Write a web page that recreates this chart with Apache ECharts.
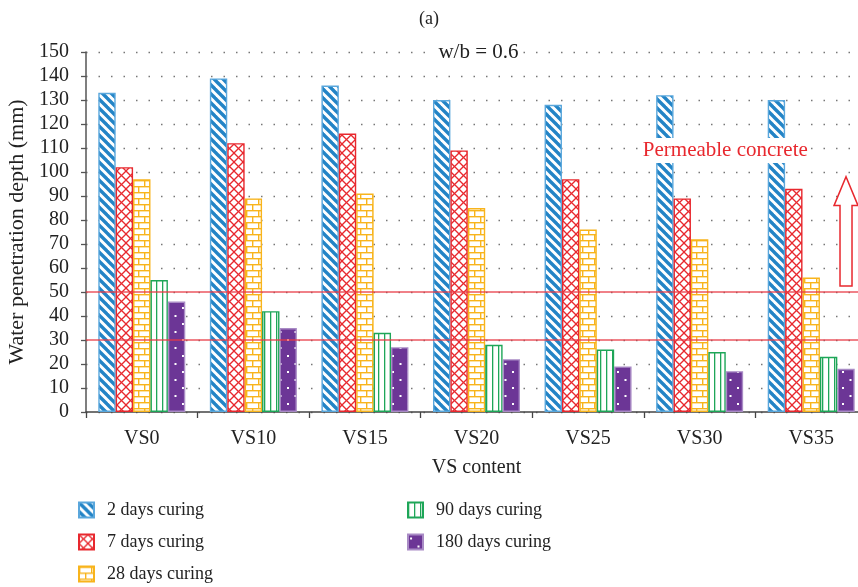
<!DOCTYPE html>
<html>
<head>
<meta charset="utf-8">
<script src="https://cdn.jsdelivr.net/npm/echarts@6/dist/echarts.min.js"></script>
<style>
  html, body { margin: 0; padding: 0; background: #fff; }
  #chart { width: 858px; height: 587px; }
</style>
</head>
<body>
<div id="chart"></div>
<script>
// Water penetration depth (mm) by VS content and curing age
const categories = ['VS0', 'VS10', 'VS15', 'VS20', 'VS25', 'VS30', 'VS35'];
const seriesNames = ['2 days curing', '7 days curing', '28 days curing', '90 days curing', '180 days curing'];
const days2 = [133, 139, 136, 130, 128, 132, 130];
const days7 = [102, 112, 116, 109, 97, 89, 93];
const days28 = [97, 89, 91, 85, 76, 72, 56];
const days90 = [55, 42, 33, 28, 26, 25, 23];
const days180 = [46, 35, 27, 22, 19, 17, 18];
const yMin = 0, yMax = 150, yStep = 10;
const limitLines = [30, 50];
// annotation arrow: bottom, head base and tip, in mm
const arrowValues = [52.5, 86, 98];

const FONT = 'Liberation Serif';
const BAR_W = 17.4;

function tile(w, h, draw) {
  const c = document.createElement('canvas');
  c.width = w; c.height = h;
  const ctx = c.getContext('2d');
  draw(ctx, w, h);
  return { image: c, repeat: 'repeat' };
}

// diagonal stripes
const stripeFill = tile(9, 9, (ctx, w, h) => {
  ctx.fillStyle = '#fff'; ctx.fillRect(0, 0, w, h);
  ctx.strokeStyle = '#2384c6'; ctx.lineWidth = 3.4;
  for (let k = -1; k <= 1; k++) {
    ctx.beginPath(); ctx.moveTo(k * w - 2, -2); ctx.lineTo(k * w + w + 2, h + 2); ctx.stroke();
  }
});
// cross hatch
const hatchFill = tile(9, 9, (ctx, w, h) => {
  ctx.fillStyle = '#fff'; ctx.fillRect(0, 0, w, h);
  ctx.strokeStyle = '#e8282e'; ctx.lineWidth = 1.3;
  for (let k = -1; k <= 1; k++) {
    ctx.beginPath(); ctx.moveTo(k * w - 1, -1); ctx.lineTo(k * w + w + 1, h + 1); ctx.stroke();
    ctx.beginPath(); ctx.moveTo(k * w + w + 1, -1); ctx.lineTo(k * w - 1, h + 1); ctx.stroke();
  }
});
// brick
const brickFill = tile(12, 12, (ctx, w, h) => {
  ctx.fillStyle = '#fff'; ctx.fillRect(0, 0, w, h);
  ctx.fillStyle = '#f8b41c';
  ctx.fillRect(0, 0, w, 1.4);
  ctx.fillRect(0, 6, w, 1.4);
  ctx.fillRect(0, 0, 1.4, 6);
  ctx.fillRect(6, 6, 1.4, 6);
});
// vertical lines
const vlineFill = tile(6, 6, (ctx, w, h) => {
  ctx.fillStyle = '#fff'; ctx.fillRect(0, 0, w, h);
  ctx.fillStyle = '#1ea658';
  ctx.fillRect(0, 0, 1.3, h);
});
// dots on purple
const dotFill = tile(15, 16, (ctx, w, h) => {
  ctx.fillStyle = '#6c3696'; ctx.fillRect(0, 0, w, h);
  ctx.fillStyle = '#fff';
  ctx.fillRect(2, 3, 2, 2);
  ctx.fillRect(9.5, 11, 2, 2);
});

const fills = [stripeFill, hatchFill, brickFill, vlineFill, dotFill];
const borders = ['#5aa7dc', '#e8282e', '#f8b41c', '#1ea658', '#a98bc5'];
const values = [days2, days7, days28, days90, days180];

const chart = echarts.init(document.getElementById('chart'), null, { renderer: 'canvas' });

const series = seriesNames.map((name, i) => ({
  name: name,
  type: 'bar',
  data: values[i],
  barWidth: BAR_W,
  barGap: '0%',
  itemStyle: { color: fills[i], borderColor: borders[i], borderWidth: 1.4 },
  emphasis: { disabled: true },
  markLine: i === 0 ? {
    silent: true,
    symbol: 'none',
    label: { show: false },
    lineStyle: { color: '#e83a44', width: 1.6, type: 'solid', opacity: 0.85 },
    data: limitLines.map(v => ({ yAxis: v }))
  } : undefined
}));

const legendText = { fontFamily: FONT, fontSize: 18, color: '#222', padding: [0, 0, 0, 8] };
const legendBase = {
  orient: 'vertical',
  top: 501, height: 86,
  padding: 0,
  itemWidth: 15, itemHeight: 15, itemGap: 14,
  icon: 'rect',
  textStyle: legendText
};

chart.setOption({
  animation: false,
  backgroundColor: '#fff',
  title: {
    text: '(a)',
    left: 'center',
    top: 5,
    textStyle: { fontFamily: FONT, fontSize: 18, fontWeight: 'normal', color: '#222' }
  },
  grid: { left: 86, width: 781, top: 52, bottom: 175, containLabel: false, outerBoundsMode: 'none' },
  legend: [
    Object.assign({ data: seriesNames.slice(0, 3), left: 78 }, legendBase),
    Object.assign({ data: seriesNames.slice(3), left: 407 }, legendBase)
  ],
  xAxis: {
    type: 'category',
    data: categories,
    name: 'VS content',
    nameLocation: 'middle',
    nameGap: 46,
    nameTextStyle: { fontFamily: FONT, fontSize: 20, color: '#222' },
    axisLine: { lineStyle: { color: '#444', width: 1.5 } },
    axisTick: { show: true, length: 6, lineStyle: { color: '#444', width: 1.3 } },
    axisLabel: { fontFamily: FONT, fontSize: 20, color: '#222', margin: 17 },
    splitLine: { show: false }
  },
  yAxis: {
    type: 'value',
    min: yMin, max: yMax, interval: yStep,
    name: 'Water penetration depth (mm)',
    nameLocation: 'middle',
    nameGap: 58,
    nameRotate: 90,
    nameTextStyle: { fontFamily: FONT, fontSize: 22, color: '#222' },
    axisLine: { show: true, lineStyle: { color: '#555', width: 1.5 } },
    axisTick: { show: true, length: 5, lineStyle: { color: '#555', width: 1.3 } },
    axisLabel: { fontFamily: FONT, fontSize: 20, color: '#222', margin: 17 },
    splitLine: { show: true, lineStyle: { color: '#777', width: 1.3, type: [1.5, 11] } }
  },
  series: series
});

// annotations placed through the axes
const xPix = c => chart.convertToPixel({ xAxisIndex: 0 }, c);
const yPix = v => chart.convertToPixel({ yAxisIndex: 0 }, v);
const catW = xPix(categories[1]) - xPix(categories[0]);
const xLast = xPix(categories[6]);
const x30 = xPix(categories[5]);
const arrowX = xLast + 2 * BAR_W;
const yBottom = yPix(arrowValues[0]), yHead = yPix(arrowValues[1]), yTip = yPix(arrowValues[2]);
const headHalf = 12, shaftHalf = 6;

chart.setOption({
  graphic: [
    {
      type: 'text',
      x: (xPix(categories[0]) + xLast) / 2 + 2,
      y: yPix(150),
      style: {
        text: 'w/b = 0.6',
        fontFamily: FONT, fontSize: 21, fill: '#222',
        align: 'center', verticalAlign: 'middle',
        backgroundColor: '#fff', padding: [2, 4]
      },
      z: 100
    },
    {
      type: 'text',
      x: x30 + catW * 0.23,
      y: yPix(109),
      style: {
        text: 'Permeable concrete',
        fontFamily: FONT, fontSize: 21, fill: '#e8282e',
        align: 'center', verticalAlign: 'middle',
        backgroundColor: '#fff', padding: [2, 2]
      },
      z: 100
    },
    {
      type: 'polygon',
      shape: {
        points: [
          [arrowX - shaftHalf, yBottom],
          [arrowX - shaftHalf, yHead],
          [arrowX - headHalf, yHead],
          [arrowX, yTip],
          [arrowX + headHalf, yHead],
          [arrowX + shaftHalf, yHead],
          [arrowX + shaftHalf, yBottom]
        ]
      },
      style: { fill: '#fff', stroke: '#e8282e', lineWidth: 1.5 },
      z: 100
    }
  ]
});
</script>
</body>
</html>
